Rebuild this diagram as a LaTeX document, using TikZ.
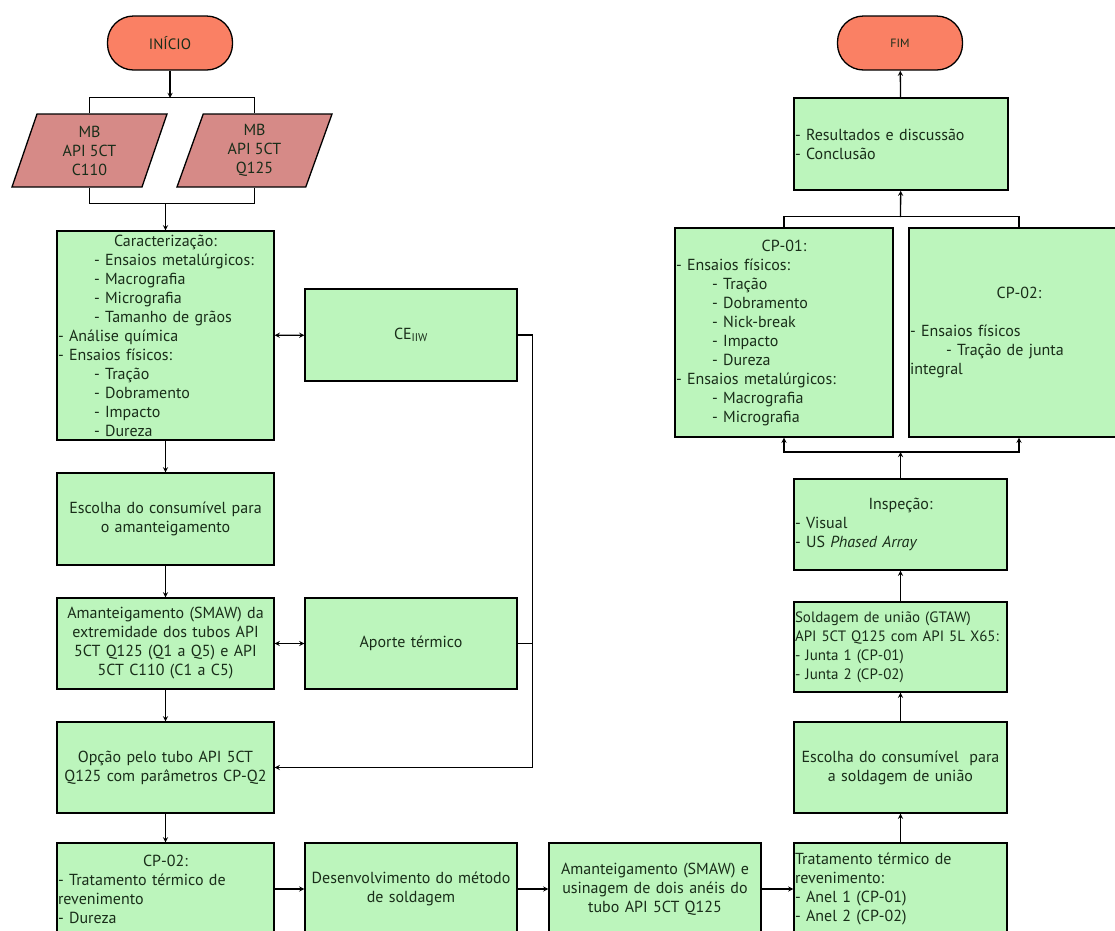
\documentclass[tikz,border=0pt]{standalone}
\usepackage{fontspec}
\setmainfont{PT Sans}
\usepackage{tikz}
\usetikzlibrary{arrows, shapes.geometric, positioning}
\definecolor{boxgreen}{RGB}{188,245,188}
\definecolor{termorange}{RGB}{250,128,100}
\definecolor{mbrose}{RGB}{214,138,135}
\definecolor{txtdark}{RGB}{25,45,25}
\tikzstyle{arrow}    = [line width=1.3pt,->,>=stealth]
\tikzstyle{dblarrow} = [line width=1.3pt,<->,>=stealth]
\tikzstyle{edge}     = [line width=1.3pt]
\tikzstyle{box}      = [line width=1.3pt, draw, rectangle, fill=boxgreen, inner sep=1pt, text=txtdark, font=\fontsize{16}{19}\selectfont]
\tikzstyle{lbox}     = [box, text width=215pt, minimum width=217pt]
\tikzstyle{mbox}     = [box, text width=210pt, minimum width=212pt]
\tikzstyle{rbox}     = [box, text width=211pt, minimum width=213pt]
\tikzstyle{term}     = [line width=1.3pt, draw, rectangle, rounded corners=26pt, fill=termorange, minimum width=125pt, minimum height=54pt, text=txtdark]
\tikzstyle{mbdata}   = [line width=1.3pt, draw, trapezium, trapezium left angle=66, trapezium right angle=114, trapezium stretches body, fill=mbrose, minimum width=155pt, minimum height=73pt, align=center, text=txtdark, font=\fontsize{16}{19}\selectfont]
\newcommand{\ctitle}[1]{\hfill#1\hfill\null}
\newcommand{\ind}{\hspace*{36pt}}

\begin{document}
\begin{tikzpicture}[x=1pt,y=-1pt]

\useasboundingbox (0,0) rectangle (1115,930);
\clip (0,0) rectangle (1115,930);

% left column
\node[term, font=\fontsize{15}{17}\selectfont] (inicio) at (170,43) {INÍCIO};

\node[mbdata] (mbC) at (89.5,150.5)  {MB\\API 5CT\\C110};
\node[mbdata] (mbQ) at (254.5,150.5) {MB\\API 5CT\\Q125};

\node[lbox, align=left, minimum height=209pt] (carac) at (165.5,335.5)
  {\ctitle{Caracterização:}\\
   \ind- Ensaios metalúrgicos:\\
   \ind- Macrografia\\
   \ind- Micrografia\\
   \ind- Tamanho de grãos\\
   - Análise química\\
   - Ensaios físicos:\\
   \ind- Tração\\
   \ind- Dobramento\\
   \ind- Impacto\\
   \ind- Dureza};

\node[mbox, align=center, minimum height=92pt] (ce) at (411,335) {CE\textsubscript{IIW}};

\node[lbox, align=center, minimum height=92pt] (escAm) at (165.5,519)
  {Escolha do consumível para\\o amanteigamento};

\node[lbox, align=center, minimum height=91pt] (amant) at (165.5,643.5)
  {Amanteigamento (SMAW) da\\extremidade dos tubos API\\5CT Q125 (Q1 a Q5) e API\\5CT C110 (C1 a C5)};

\node[mbox, align=center, minimum height=91pt] (aporte) at (411,643.5) {Aporte térmico};

\node[lbox, align=center, minimum height=91pt] (opcao) at (165.5,767.5)
  {Opção pelo tubo API 5CT\\Q125 com parâmetros CP-Q2};

% bottom row
\node[lbox, align=left, minimum height=92pt] (cp02a) at (165.5,889)
  {\ctitle{CP-02:}\\
   - Tratamento térmico de\\
   revenimento\\
   - Dureza};

\node[mbox, align=center, minimum height=92pt] (desenv) at (411,889)
  {Desenvolvimento do método\\de soldagem};

\node[mbox, align=center, minimum height=92pt] (amantUs) at (655,889)
  {Amanteigamento (SMAW) e\\usinagem de dois anéis do\\tubo API 5CT Q125};

\node[rbox, align=left, minimum height=92pt] (trat) at (900.5,889)
  {Tratamento térmico de\\
   revenimento:\\
   - Anel 1 (CP-01)\\
   - Anel 2 (CP-02)};

% right column
\node[rbox, align=center, minimum height=91pt] (escSold) at (900.5,767.5)
  {Escolha do consumível\ \ para\\a soldagem de união};

\node[rbox, align=left, minimum height=90pt, font=\fontsize{15}{19}\selectfont] (sold) at (900.5,647)
  {Soldagem de união (GTAW)\\
   API 5CT Q125 com API 5L X65:\\
   - Junta 1 (CP-01)\\
   - Junta 2 (CP-02)};

\node[rbox, align=left, minimum height=91pt] (insp) at (900.5,524.5)
  {\ctitle{Inspeção:}\\
   - Visual\\
   - US \textit{Phased Array}};

\node[box, text width=216pt, minimum width=218pt, align=left, minimum height=209pt] (cp01) at (784,332.5)
  {\ctitle{CP-01:}\\
   - Ensaios físicos:\\
   \ind- Tração\\
   \ind- Dobramento\\
   \ind- Nick-break\\
   \ind- Impacto\\
   \ind- Dureza\\
   - Ensaios metalúrgicos:\\
   \ind- Macrografia\\
   \ind- Micrografia};

\node[box, text width=218pt, minimum width=220pt, align=left, minimum height=209pt] (cp02) at (1019,332.5)
  {\ctitle{CP-02:}\\[19pt]
   - Ensaios físicos\\
   \hspace*{36pt}- Tração de junta\\
   integral};

\node[box, text width=212pt, minimum width=214pt, align=left, minimum height=92pt] (result) at (901,144)
  {- Resultados e discussão\\
   - Conclusão};

\node[term, font=\fontsize{12}{14}\selectfont] (fim) at (900,43) {FIM};

% junction points
\coordinate (topM) at (170,98);
\coordinate (botM) at (165.5,203);
\coordinate (barLo) at (900.5,452);
\coordinate (barUp) at (900.5,217);

% connectors, left side
\draw[arrow] (inicio) -- (topM);
\draw[edge] (mbC.north) -- ++(0,-16) -| (mbQ.north);
\draw[edge] (mbC.south) -- ++(0,16) -| (mbQ.south);
\draw[arrow] (botM) -- (carac);

\draw[arrow] (carac) -- (escAm);
\draw[arrow] (escAm) -- (amant);
\draw[arrow] (amant) -- (opcao);
\draw[arrow] (opcao) -- (cp02a);

\draw[dblarrow] (carac) -- (ce);
\draw[dblarrow] (amant) -- (aporte);
\draw[arrow] (ce.east) -- ++(15,0) |- (opcao.east);
\draw[edge] (aporte.east) -- ++(15,0);

% bottom row
\draw[arrow] (cp02a) -- (desenv);
\draw[arrow] (desenv) -- (amantUs);
\draw[arrow] (amantUs) -- (trat);

% right side
\draw[arrow] (trat) -- (escSold);
\draw[arrow] (escSold) -- (sold);
\draw[arrow] (sold) -- (insp);
\draw[arrow] (insp) -- (barLo);
\draw[arrow] (barLo) -| (cp01.south);
\draw[arrow] (barLo) -| (cp02.south);
\draw[edge] (cp01.north) -- ++(0,-11) -| (cp02.north);
\draw[arrow] (barUp) -- (result);
\draw[arrow] (result) -- (fim);

\end{tikzpicture}
\end{document}
